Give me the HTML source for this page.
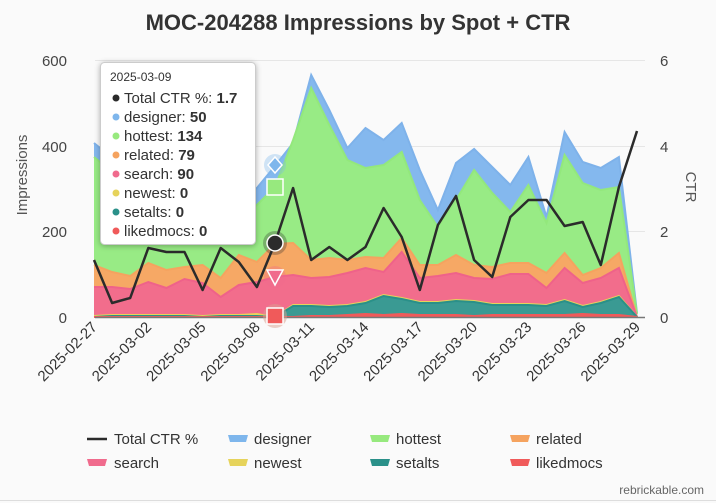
<!DOCTYPE html>
<html><head><meta charset="utf-8"><style>
body{margin:0;background:#fafafa;font-family:"Liberation Sans",Arial,sans-serif}
svg{display:block}
</style></head><body>
<svg width="716" height="503" viewBox="0 0 716 503" xmlns="http://www.w3.org/2000/svg" font-family="Liberation Sans, Arial, sans-serif">
<rect width="716" height="503" fill="#fafafa"/>
<line x1="0" y1="500.5" x2="716" y2="500.5" stroke="#ddd"/>
<text x="358" y="30" text-anchor="middle" font-size="22" font-weight="bold" fill="#333">MOC-204288 Impressions by Spot + CTR</text>
<g stroke="#e6e6e6"><line x1="95" y1="60.5" x2="645" y2="60.5"/><line x1="95" y1="146.5" x2="645" y2="146.5"/><line x1="95" y1="231.5" x2="645" y2="231.5"/></g>
<g font-size="15" fill="#444" text-anchor="end"><text x="67" y="66">600</text><text x="67" y="152">400</text><text x="67" y="237">200</text><text x="67" y="323">0</text></g>
<g font-size="15" fill="#444"><text x="660" y="66">6</text><text x="660" y="152">4</text><text x="660" y="237">2</text><text x="660" y="323">0</text></g>
<text transform="translate(27,175) rotate(-90)" text-anchor="middle" font-size="15" fill="#555">Impressions</text>
<text transform="translate(686,187) rotate(90)" text-anchor="middle" font-size="15" fill="#555">CTR</text>
<g id="areas"></g>
<line x1="95" y1="317.5" x2="645" y2="317.5" stroke="#777" stroke-width="1.5"/>
<g id="xl" font-size="15" fill="#333" text-anchor="end"></g>
<polyline id="ctr" fill="none" stroke="#2b2b2b" stroke-width="2.5" stroke-linejoin="round"/>
<g>
<circle cx="275" cy="165" r="11" fill="#7eb6ec" opacity="0.35"/>
<path d="M275 157 L282 165 L275 173 L268 165Z" fill="#7eb6ec" stroke="#fff" stroke-width="1.5"/>
<rect x="267" y="179" width="16" height="16" fill="#97e97e" stroke="#fff" stroke-width="1.5"/>
<circle cx="275" cy="243" r="12" fill="#2b2b2b" opacity="0.3"/>
<circle cx="275" cy="243" r="8" fill="#2b2b2b" stroke="#fff" stroke-width="1.5"/>
<circle cx="275" cy="277" r="11" fill="#f06b8d" opacity="0.35"/>
<path d="M267 270 L283 270 L275 285Z" fill="#f06b8d" stroke="#fff" stroke-width="1.5"/>
<circle cx="275" cy="316" r="12" fill="#d9a08f" opacity="0.5"/>
<rect x="267" y="308" width="16" height="16" fill="#f05a5a" stroke="#fff" stroke-width="1.5"/>
</g>
<g>
<rect x="100.5" y="62.5" width="155" height="182" rx="4" fill="#fff" stroke="#ccc" style="filter:drop-shadow(0 1px 3px rgba(0,0,0,0.3))"/>
<g font-size="15" fill="#333">
<text x="110" y="81" font-size="12">2025-03-09</text>
<circle cx="116" cy="98" r="3.5" fill="#2b2b2b"/><text x="124" y="103">Total CTR %: <tspan font-weight="bold">1.7</tspan></text>
<circle cx="116" cy="117" r="3.5" fill="#7eb6ec"/><text x="124" y="122">designer: <tspan font-weight="bold">50</tspan></text>
<circle cx="116" cy="136" r="3.5" fill="#97e97e"/><text x="124" y="141">hottest: <tspan font-weight="bold">134</tspan></text>
<circle cx="116" cy="155" r="3.5" fill="#f5a35f"/><text x="124" y="160">related: <tspan font-weight="bold">79</tspan></text>
<circle cx="116" cy="174" r="3.5" fill="#f06b8d"/><text x="124" y="179">search: <tspan font-weight="bold">90</tspan></text>
<circle cx="116" cy="193" r="3.5" fill="#e6d35b"/><text x="124" y="198">newest: <tspan font-weight="bold">0</tspan></text>
<circle cx="116" cy="212" r="3.5" fill="#2a9089"/><text x="124" y="217">setalts: <tspan font-weight="bold">0</tspan></text>
<circle cx="116" cy="231" r="3.5" fill="#f05a5a"/><text x="124" y="236">likedmocs: <tspan font-weight="bold">0</tspan></text>
</g></g>
<g font-size="15" fill="#333">
<line x1="87" y1="439" x2="107" y2="439" stroke="#2b2b2b" stroke-width="2.5"/><text x="114" y="444">Total CTR %</text>
<path d="M228 435 H248 L246 442 H230Z" fill="#7eb6ec"/><text x="254" y="444">designer</text>
<path d="M370 435 H390 L388 442 H372Z" fill="#97e97e"/><text x="396" y="444">hottest</text>
<path d="M510 435 H530 L528 442 H512Z" fill="#f5a35f"/><text x="536" y="444">related</text>
<path d="M87 459 H107 L105 466 H89Z" fill="#f06b8d"/><text x="114" y="468">search</text>
<path d="M228 459 H248 L246 466 H230Z" fill="#e6d35b"/><text x="254" y="468">newest</text>
<path d="M370 459 H390 L388 466 H372Z" fill="#2a9089"/><text x="396" y="468">setalts</text>
<path d="M510 459 H530 L528 466 H512Z" fill="#f05a5a"/><text x="536" y="468">likedmocs</text>
</g>
<text x="704" y="494" text-anchor="end" font-size="12" fill="#666">rebrickable.com</text>
</svg>
<script>
var NS="http://www.w3.org/2000/svg";
var X=[];for(var i=0;i<31;i++)X.push(94+18.1*i);
var blue=[143,158,166,162,167,180,176,192,198,188,166,143,75,110,148,128,140,123,170,210,163,149,167,185,157,217,132,162,168,157,313];
var green=[157,172,180,175,181,196,191,206,216,205,187,140,88,125,160,168,165,152,200,227,200,170,193,212,185,223,155,183,190,187,314];
var orange=[265,272,276,263,270,267,265,278,255,262,244,243,260,258,260,257,258,238,265,265,255,265,267,263,263,273,253,275,268,253,317];
var pink=[287,287,289,282,288,279,283,297,285,282,277,275,278,277,273,268,272,252,278,276,273,278,279,274,274,288,268,283,278,268,317];
var yel=[316,315,315,315,315,315,316,315,315,314,317,305,305,306,305,302,295,298,302,302,300,301,304,304,304,305,300,306,302,296,317];
var teal=[317,316,316,316,316,316,317,316,316,316,317,306,306,307,306,303,296,299,303,303,301,302,305,305,305,306,301,307,303,297,317];
var red=[317,317,317,317,317,317,317,317,317,317,317,317,316,316,315,314,315,314,315,315,315,316,315,315,315,315,315,314,315,315,317];
var ctr=[260,303,298,248,252,252,290,248,262,287,243,188,260,247,260,247,208,237,290,225,196,260,277,217,200,200,226,222,265,187,131];
var g=document.getElementById("areas");
function pts(a){return a.map(function(v,i){return X[i]+','+v}).join(' ');}
function area(top,bot,fill,stroke){var d="M"+X[0]+" "+top[0];for(var i=1;i<31;i++)d+="L"+X[i]+" "+top[i];for(var i=30;i>=0;i--)d+="L"+X[i]+" "+bot[i];d+="Z";
var p=document.createElementNS(NS,"path");p.setAttribute("d",d);p.setAttribute("fill",fill);g.appendChild(p);
var l=document.createElementNS(NS,"polyline");l.setAttribute("points",pts(top));l.setAttribute("fill","none");l.setAttribute("stroke",stroke);l.setAttribute("stroke-width","2");g.appendChild(l);}
var base=X.map(function(){return 317});
area(blue,green,"#84b8ee","#7eb2ea");area(green,orange,"#98eb85","#93e87c");area(orange,pink,"#f6a865","#f5a35f");area(pink,yel,"#f26d8c","#ef628a");area(yel,teal,"#e6d35b","#e6d35b");area(teal,red,"#3a9a93","#2a9089");area(red,base,"#f05a5a","#f05a5a");
document.getElementById("ctr").setAttribute("points",pts(ctr));
var labs=["2025-02-27","2025-03-02","2025-03-05","2025-03-08","2025-03-11","2025-03-14","2025-03-17","2025-03-20","2025-03-23","2025-03-26","2025-03-29"];
var xl=document.getElementById("xl");
for(var k=0;k<11;k++){var x=X[k*3]+4;var t=document.createElementNS(NS,"text");t.setAttribute("transform","translate("+x+",328) rotate(-45)");t.textContent=labs[k];xl.appendChild(t);}
</script>
</body></html>
